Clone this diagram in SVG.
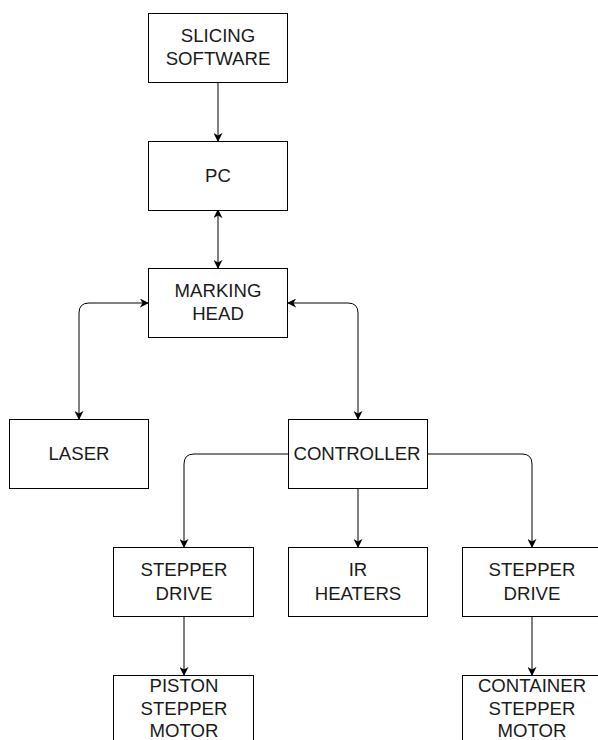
<svg xmlns="http://www.w3.org/2000/svg" width="598" height="740" viewBox="0 0 598 740">
<defs>
<style>
.box{fill:#fff;stroke:#000;stroke-width:1}
.t{font-family:"Liberation Sans",Arial,sans-serif;font-size:18.6px;fill:#1a1a1a;text-anchor:middle}
.c{fill:none;stroke:#000;stroke-width:1}
</style>
<marker id="a" viewBox="0 0 10 10" refX="9" refY="5" markerWidth="9" markerHeight="9" markerUnits="userSpaceOnUse" orient="auto-start-reverse">
<path d="M0,0 L10,5 L0,10 L3,5 Z" fill="#000"/>
</marker>
</defs>
<rect width="598" height="740" fill="#fff"/>
<g id="connectors">
<path class="c" d="M218,83 V141" marker-end="url(#a)"/>
<path class="c" d="M218,210 V268" marker-start="url(#a)" marker-end="url(#a)"/>
<path class="c" d="M148,303 H89 Q79,303 79,313 V419" marker-start="url(#a)" marker-end="url(#a)"/>
<path class="c" d="M288,303 H348 Q358,303 358,313 V419" marker-start="url(#a)" marker-end="url(#a)"/>
<path class="c" d="M288,454 H194 Q184,454 184,464 V547" marker-end="url(#a)"/>
<path class="c" d="M358,489 V547" marker-end="url(#a)"/>
<path class="c" d="M428,454 H522 Q532,454 532,464 V547" marker-end="url(#a)"/>
<path class="c" d="M184,617 V675" marker-end="url(#a)"/>
<path class="c" d="M532,617 V675" marker-end="url(#a)"/>
</g>
<g id="slicing"><rect class="box" x="148.5" y="13.5" width="139" height="69"/><text class="t" x="218" y="41.5">SLICING</text><text class="t" x="218" y="65">SOFTWARE</text></g>
<g id="pc"><rect class="box" x="148.5" y="141.5" width="139" height="69"/><text class="t" x="218" y="182">PC</text></g>
<g id="marking"><rect class="box" x="148.5" y="268.5" width="139" height="69"/><text class="t" x="218" y="296.5">MARKING</text><text class="t" x="218" y="320">HEAD</text></g>
<g id="laser"><rect class="box" x="9.5" y="419.5" width="139" height="69"/><text class="t" x="79" y="460">LASER</text></g>
<g id="controller"><rect class="box" x="288.5" y="419.5" width="139" height="69"/><text class="t" x="357" y="460">CONTROLLER</text></g>
<g id="drive1"><rect class="box" x="113.5" y="547.5" width="140" height="69"/><text class="t" x="184" y="576">STEPPER</text><text class="t" x="184" y="599.5">DRIVE</text></g>
<g id="ir"><rect class="box" x="288.5" y="547.5" width="139" height="69"/><text class="t" x="358" y="576">IR</text><text class="t" x="358" y="599.5">HEATERS</text></g>
<g id="drive2"><rect class="box" x="462.5" y="547.5" width="139" height="69"/><text class="t" x="532" y="576">STEPPER</text><text class="t" x="532" y="599.5">DRIVE</text></g>
<g id="piston"><rect class="box" x="113.5" y="675.5" width="140" height="69"/><text class="t" x="184" y="691.5">PISTON</text><text class="t" x="184" y="714.5">STEPPER</text><text class="t" x="184" y="737">MOTOR</text></g>
<g id="container"><rect class="box" x="462.5" y="675.5" width="139" height="69"/><text class="t" x="532" y="691.5">CONTAINER</text><text class="t" x="532" y="714.5">STEPPER</text><text class="t" x="532" y="737">MOTOR</text></g>
</svg>
